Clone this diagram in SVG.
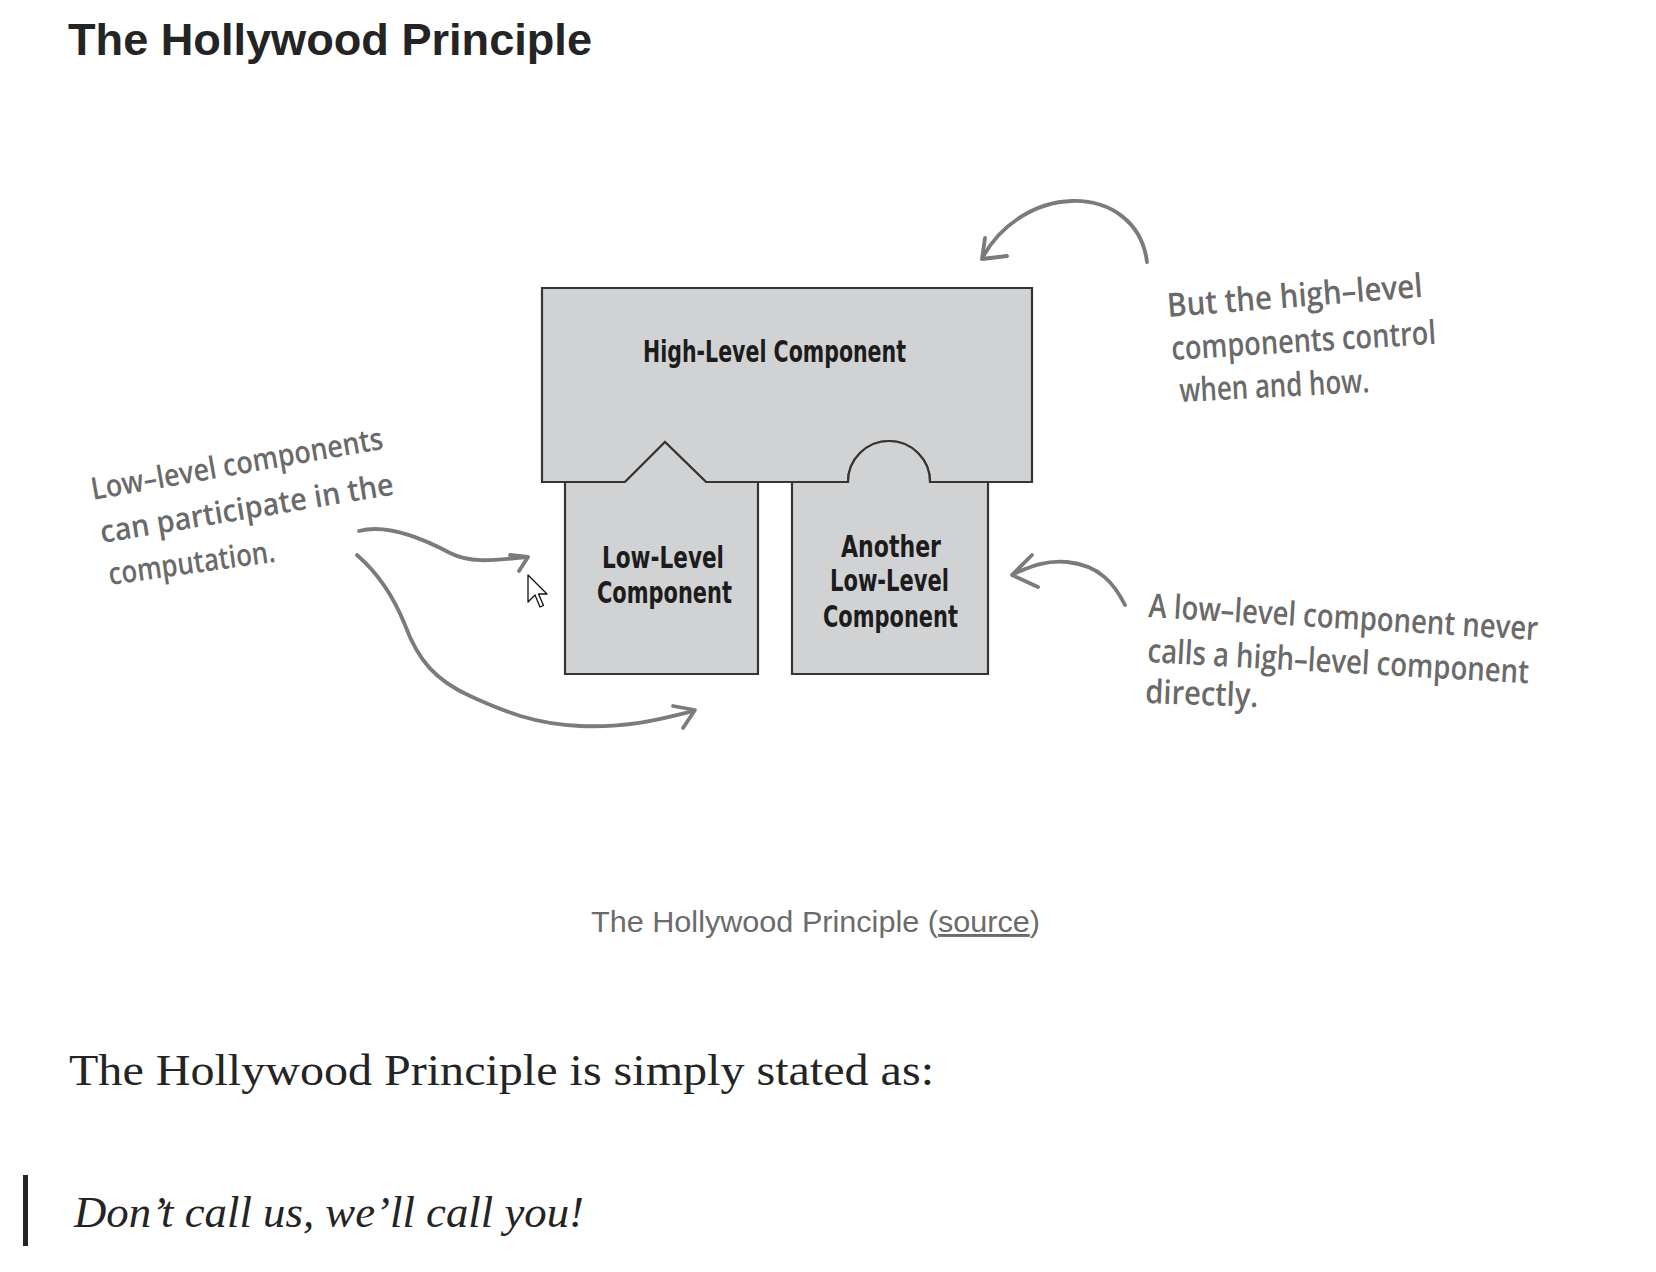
<svg xmlns="http://www.w3.org/2000/svg" width="1656" height="1272" viewBox="0 0 1656 1272">
<style>
.box{fill:#d1d2d4;stroke:#353535;stroke-width:2.2;stroke-linejoin:miter}
.lbl{font-family:"DejaVu Sans Condensed","DejaVu Sans",sans-serif;font-weight:bold;font-size:30px;fill:#1c1c1c}
.hand{font-family:"Open Sans","Noto Sans",sans-serif;font-weight:600;fill:#6a6a6a}
.arrow{fill:none;stroke:#7b7b7b;stroke-width:3.8;stroke-linecap:round;stroke-linejoin:round}
</style>
<rect width="1656" height="1272" fill="#ffffff"/>
<text x="68" y="55" font-family="Liberation Sans, Arial, sans-serif" font-weight="bold" font-size="45" fill="#242424" textLength="524" lengthAdjust="spacingAndGlyphs">The Hollywood Principle</text>

<g id="high-level">
<path class="box" d="M542,288 L1032,288 L1032,482 L930,482 A41,41 0 0 0 848,482 L706,482 L665,442 L625,482 L542,482 Z"/>
<text class="lbl" x="643" y="362" textLength="263" lengthAdjust="spacingAndGlyphs">High-Level Component</text>
</g>
<g id="low-level">
<path class="box" d="M565,482 L625,482 L665,442 L706,482 L758,482 L758,674 L565,674 Z"/>
<text class="lbl" x="602" y="568" textLength="122" lengthAdjust="spacingAndGlyphs">Low-Level</text>
<text class="lbl" x="597" y="603" textLength="135" lengthAdjust="spacingAndGlyphs">Component</text>
</g>
<g id="another-low-level">
<path class="box" d="M792,482 L848,482 A41,41 0 0 1 930,482 L988,482 L988,674 L792,674 Z"/>
<text class="lbl" x="841" y="557" textLength="100" lengthAdjust="spacingAndGlyphs">Another</text>
<text class="lbl" x="830" y="591" textLength="119" lengthAdjust="spacingAndGlyphs">Low-Level</text>
<text class="lbl" x="823" y="627" textLength="135" lengthAdjust="spacingAndGlyphs">Component</text>
</g>

<g id="note-left" class="hand" font-size="31">
<text transform="translate(93,500) rotate(-10)" textLength="296" lengthAdjust="spacingAndGlyphs">Low–level components</text>
<text transform="translate(102,543) rotate(-9.4)" textLength="297" lengthAdjust="spacingAndGlyphs">can participate in the</text>
<text transform="translate(110,585) rotate(-8)" textLength="168" lengthAdjust="spacingAndGlyphs">computation.</text>
</g>
<g id="note-top-right" class="hand" font-size="33">
<text transform="translate(1168,317) rotate(-4.5)" textLength="256" lengthAdjust="spacingAndGlyphs">But the high–level</text>
<text transform="translate(1172,360) rotate(-3.5)" textLength="265" lengthAdjust="spacingAndGlyphs">components control</text>
<text transform="translate(1180,402) rotate(-3)" textLength="190" lengthAdjust="spacingAndGlyphs">when and how.</text>
</g>
<g id="note-bottom-right" class="hand" font-size="33">
<text transform="translate(1148,617) rotate(3.4)" textLength="390" lengthAdjust="spacingAndGlyphs">A low–level component never</text>
<text transform="translate(1147,662) rotate(3.2)" textLength="382" lengthAdjust="spacingAndGlyphs">calls a high–level component</text>
<text transform="translate(1145,703) rotate(2)" textLength="113" lengthAdjust="spacingAndGlyphs">directly.</text>
</g>

<g id="connectors">
<path class="arrow" d="M359,531 C385,524 420,537 450,553 C472,564 495,560 526,557"/>
<path class="arrow" d="M510,555 L528,557 L519,571"/>
<path class="arrow" d="M357,555 C380,575 395,600 405,625 C418,660 435,680 470,696 C505,712 535,724 580,726 C630,728 665,718 693,711"/>
<path class="arrow" d="M673,706 L695,710 L683,728"/>
<path class="arrow" d="M1147,262 C1142,222 1110,200 1072,201 C1035,202 1000,225 983,257"/>
<path class="arrow" d="M985,238 L982,259 L1007,256"/>
<path class="arrow" d="M1125,605 C1115,585 1100,565 1067,562 C1045,560 1030,567 1013,574"/>
<path class="arrow" d="M1032,555 L1012,575 L1038,587"/>
</g>

<path id="cursor" d="M528,575 L528,602 L535,595 L540,607 L543.5,605.5 L538.5,594 L547,594 Z" fill="#ffffff" stroke="#111111" stroke-width="1.3" stroke-linejoin="round"/>

<text x="591" y="932" font-family="Liberation Sans, Arial, sans-serif" font-size="29" fill="#6b6b6b" textLength="449" lengthAdjust="spacingAndGlyphs">The Hollywood Principle (<tspan text-decoration="underline">source</tspan>)</text>

<text x="69" y="1085" font-family="Liberation Serif, 'Times New Roman', serif" font-size="45" fill="#242424" textLength="865" lengthAdjust="spacingAndGlyphs">The Hollywood Principle is simply stated as:</text>
<rect x="23" y="1175" width="5" height="71" fill="#242424"/>
<text x="74" y="1227" font-family="Liberation Serif, 'Times New Roman', serif" font-style="italic" font-size="45" fill="#242424" textLength="510" lengthAdjust="spacingAndGlyphs">Don’t call us, we’ll call you!</text>
</svg>
